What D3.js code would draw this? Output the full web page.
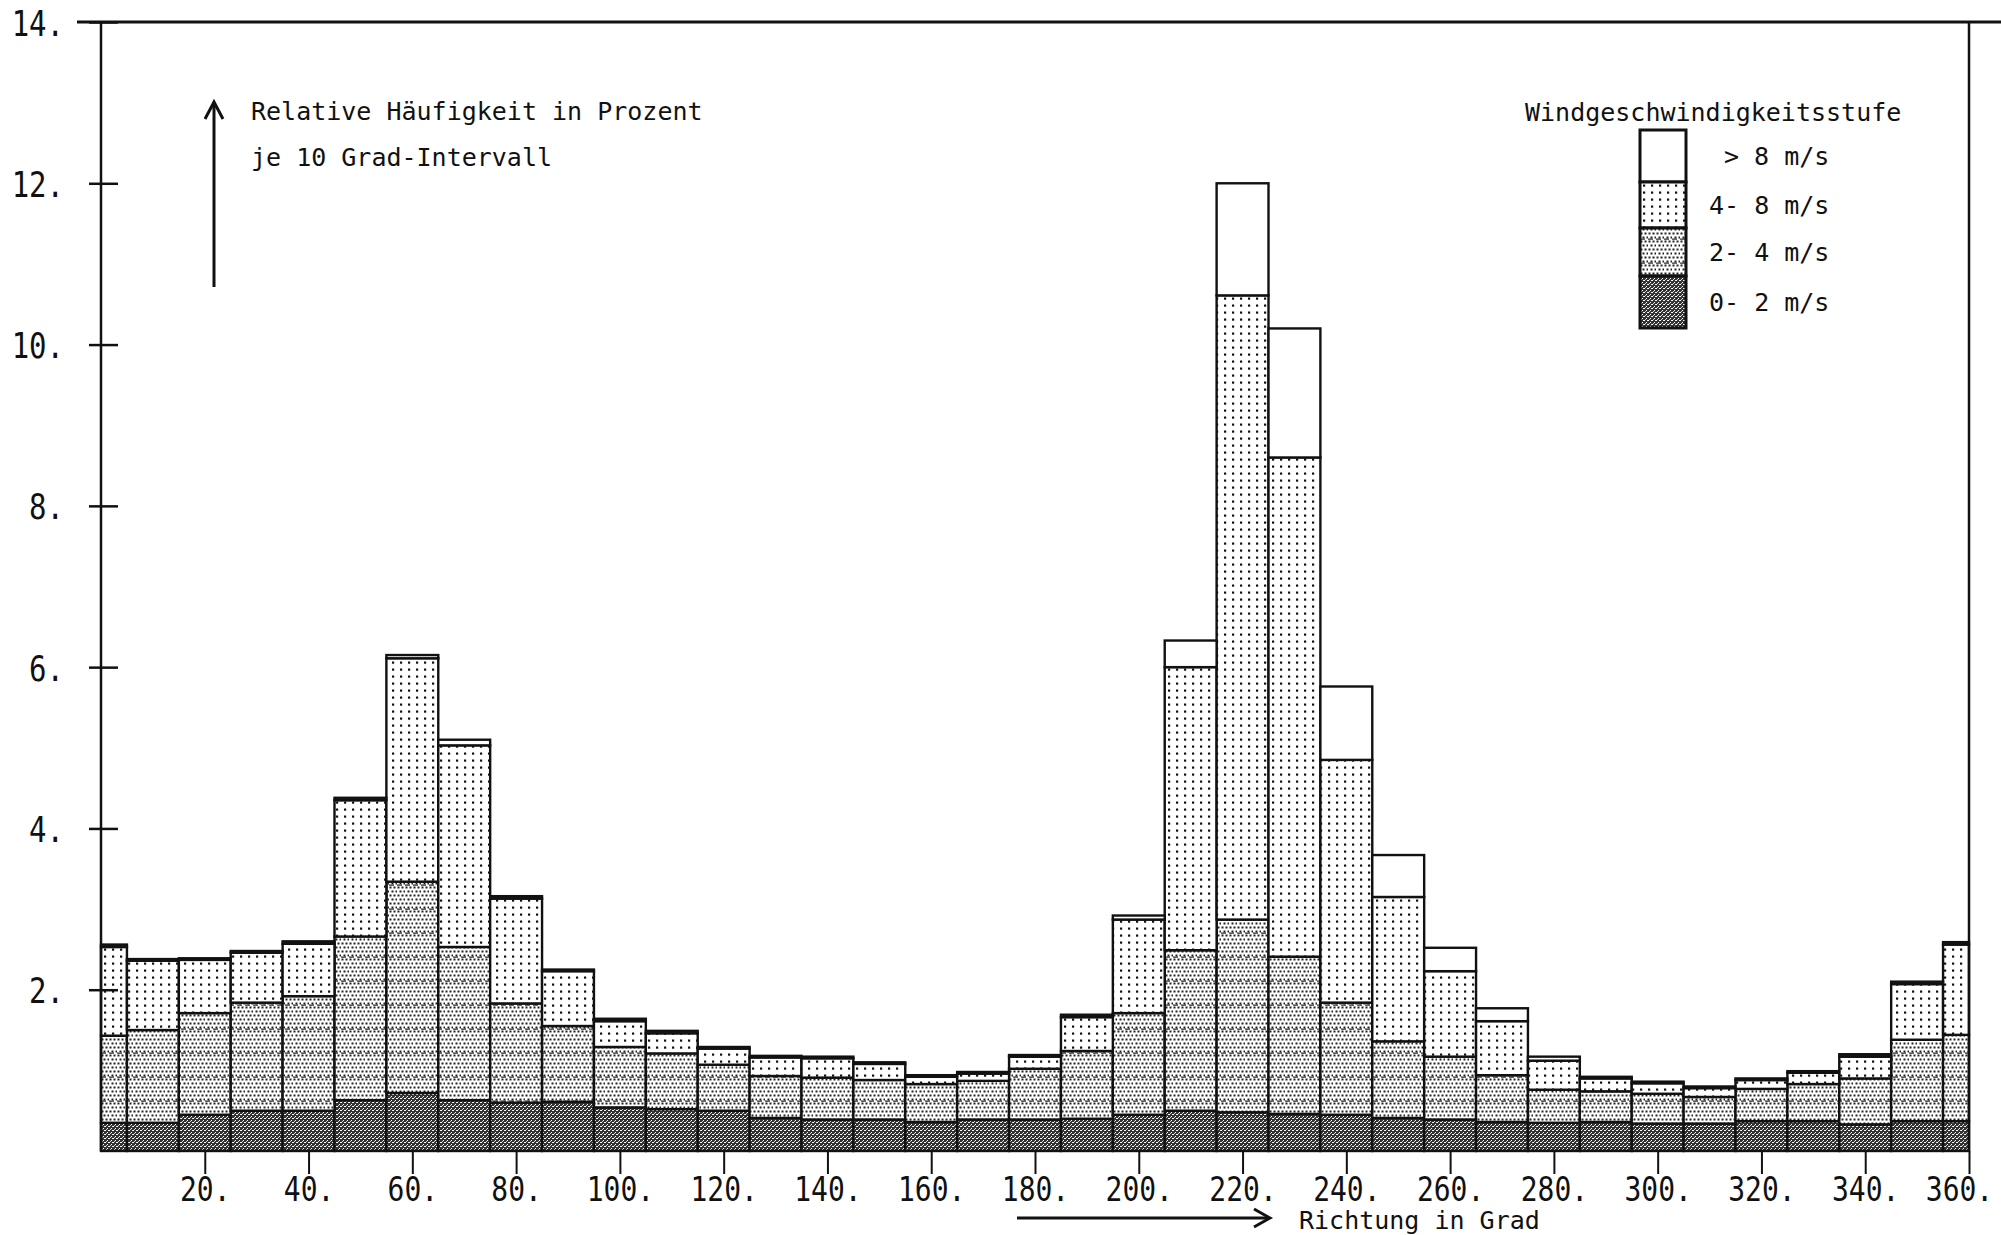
<!DOCTYPE html>
<html>
<head>
<meta charset="utf-8">
<script src="https://cdn.jsdelivr.net/npm/d3@7"></script>
<style>
  body { margin: 0; background: #fff; }
  text { font-family: "DejaVu Sans Mono", "Liberation Mono", monospace; fill: #111; }
</style>
</head>
<body>
<div id="chart"></div>
<script>
////////////////////////////////////////////////////////////////////////////////////////
// Data: relative frequency (%) per 10 degree sector, split by wind speed class
var directions = [0, 10, 20, 30, 40, 50, 60, 70, 80, 90, 100, 110, 120, 130, 140, 150, 160, 170, 180,
                  190, 200, 210, 220, 230, 240, 250, 260, 270, 280, 290, 300, 310, 320, 330, 340, 350, 360];

var speed0to2 = [0.35, 0.35, 0.45, 0.50, 0.50, 0.63, 0.72, 0.63, 0.60, 0.61, 0.54, 0.52, 0.50, 0.41, 0.39, 0.39, 0.36, 0.39, 0.39,
                 0.40, 0.45, 0.50, 0.48, 0.46, 0.45, 0.41, 0.39, 0.36, 0.35, 0.36, 0.34, 0.34, 0.37, 0.37, 0.33, 0.37, 0.37];
var speed2to4 = [1.08, 1.15, 1.26, 1.34, 1.42, 2.03, 2.62, 1.90, 1.23, 0.94, 0.75, 0.69, 0.57, 0.52, 0.52, 0.49, 0.47, 0.48, 0.63,
                 0.84, 1.26, 1.99, 2.39, 1.95, 1.39, 0.95, 0.78, 0.58, 0.41, 0.38, 0.37, 0.33, 0.40, 0.46, 0.57, 1.01, 1.07];
var speed4to8 = [1.10, 0.86, 0.66, 0.62, 0.65, 1.69, 2.77, 2.50, 1.30, 0.68, 0.32, 0.25, 0.20, 0.23, 0.24, 0.20, 0.09, 0.09, 0.15,
                 0.42, 1.16, 3.51, 7.74, 6.19, 3.01, 1.79, 1.06, 0.67, 0.36, 0.16, 0.13, 0.11, 0.11, 0.14, 0.27, 0.69, 1.12];
var speedOver8 = [0.03, 0.02, 0.02, 0.02, 0.03, 0.03, 0.04, 0.07, 0.03, 0.02, 0.03, 0.03, 0.02, 0.02, 0.02, 0.02, 0.02, 0.02, 0.02,
                  0.03, 0.05, 0.33, 1.39, 1.60, 0.91, 0.52, 0.29, 0.16, 0.05, 0.02, 0.02, 0.02, 0.02, 0.02, 0.03, 0.03, 0.03];

var speedKeys = ["s0", "s2", "s4", "s8"];
var legendLabels = ["0- 2 m/s", "2- 4 m/s", "4- 8 m/s", "> 8 m/s"];
var yTicks = [2, 4, 6, 8, 10, 12, 14];
var xTicks = [20, 40, 60, 80, 100, 120, 140, 160, 180, 200, 220, 240, 260, 280, 300, 320, 340, 360];

////////////////////////////////////////////////////////////////////////////////////////
// Canvas
var svgWidth = 2001;
var svgHeight = 1235;
var margin = { top: 22, right: 32, bottom: 84, left: 101 };
var width = svgWidth - margin.left - margin.right;
var height = svgHeight - margin.top - margin.bottom;

var svg = d3.select("#chart").append("svg")
    .attr("width", svgWidth).attr("height", svgHeight)
    .style("display", "block").style("background", "#fff");

// Fill textures, like the plotter hatchings
var defs = svg.append("defs");

var p0 = defs.append("pattern").attr("id", "pat-s0").attr("patternUnits", "userSpaceOnUse")
    .attr("width", 4).attr("height", 4);
p0.append("rect").attr("width", 4).attr("height", 4).attr("fill", "#333");
p0.append("rect").attr("x", 0).attr("y", 0).attr("width", 1).attr("height", 1).attr("fill", "#fff");
p0.append("rect").attr("x", 2).attr("y", 2).attr("width", 1).attr("height", 1).attr("fill", "#fff");
p0.append("rect").attr("x", 3).attr("y", 0).attr("width", 1).attr("height", 1).attr("fill", "#eee");
p0.append("rect").attr("x", 1).attr("y", 3).attr("width", 1).attr("height", 1).attr("fill", "#ccc");

var p2 = defs.append("pattern").attr("id", "pat-s2").attr("patternUnits", "userSpaceOnUse")
    .attr("width", 8).attr("height", 24);
p2.append("rect").attr("width", 8).attr("height", 24).attr("fill", "#fff");
for (var r = 0; r < 6; r++) {
    for (var c = 0; c < 2; c++) {
        p2.append("rect").attr("x", c * 4 + (r % 2) * 2 + 0.5).attr("y", r * 4 + 0.5)
            .attr("width", 2).attr("height", 2).attr("fill", "#222");
    }
}
p2.append("rect").attr("x", 0).attr("y", 22.5).attr("width", 5).attr("height", 1.2).attr("fill", "#222");

var p4 = defs.append("pattern").attr("id", "pat-s4").attr("patternUnits", "userSpaceOnUse")
    .attr("width", 8).attr("height", 7);
p4.append("rect").attr("width", 8).attr("height", 7).attr("fill", "#fff");
p4.append("rect").attr("x", 3).attr("y", 2.5).attr("width", 2.2).attr("height", 2.2).attr("fill", "#111");

var fills = { s0: "url(#pat-s0)", s2: "url(#pat-s2)", s4: "url(#pat-s4)", s8: "#fff" };

var chartGroup = svg.append("g").attr("transform", `translate(${margin.left}, ${margin.top})`);

////////////////////////////////////////////////////////////////////////////////////////
// Scales
var x = d3.scaleLinear().domain([0, 360]).range([0, width]);
var y = d3.scaleLinear().domain([0, 14]).range([height, 0]);

// Table for the stack
var table = directions.map(function (d, i) {
    return { dir: d, s0: speed0to2[i], s2: speed2to4[i], s4: speed4to8[i], s8: speedOver8[i] };
});
var series = d3.stack().keys(speedKeys)(table);

////////////////////////////////////////////////////////////////////////////////////////
// Bars (each sector is +-5 degrees, clipped at 0 and 360)
var layers = chartGroup.selectAll("g.layer")
    .data(series)
    .enter().append("g")
    .attr("class", "layer")
    .attr("fill", function (d) { return fills[d.key]; });

layers.selectAll("rect")
    .data(function (d) { return d; })
    .enter().append("rect")
    .attr("x", function (d) { return x(Math.max(0, d.data.dir - 5)); })
    .attr("width", function (d) { return x(Math.min(360, d.data.dir + 5)) - x(Math.max(0, d.data.dir - 5)); })
    .attr("y", function (d) { return y(d[1]); })
    .attr("height", function (d) { return y(d[0]) - y(d[1]); })
    .attr("stroke", "#111")
    .attr("stroke-width", 2.4);

////////////////////////////////////////////////////////////////////////////////////////
// Frame: left axis, top line, right line
chartGroup.append("line").attr("x1", 0).attr("x2", 0).attr("y1", 0).attr("y2", height)
    .attr("stroke", "#111").attr("stroke-width", 2.5);
chartGroup.append("line").attr("x1", -24).attr("x2", svgWidth - margin.left).attr("y1", 0).attr("y2", 0)
    .attr("stroke", "#111").attr("stroke-width", 3);
chartGroup.append("line").attr("x1", width).attr("x2", width).attr("y1", 0).attr("y2", height)
    .attr("stroke", "#111").attr("stroke-width", 2.5);

// Y axis
var yAxis = chartGroup.append("g").attr("class", "y-axis")
    .call(d3.axisLeft(y).tickValues(yTicks).tickSize(12).tickFormat(function (d) { return d + "."; }));
yAxis.select(".domain").remove();
yAxis.selectAll(".tick line").attr("x1", 17).attr("stroke", "#111").attr("stroke-width", 2.5);
yAxis.selectAll(".tick text")
    .attr("x", null).attr("dy", null)
    .attr("transform", "translate(-37, 13) scale(1, 1.2)")
    .style("font-size", "29px").style("fill", "#111");

// X axis
var xAxis = chartGroup.append("g").attr("class", "x-axis")
    .attr("transform", "translate(0," + height + ")")
    .call(d3.axisBottom(x).tickValues(xTicks).tickSize(23).tickFormat(function (d) { return d + "."; }));
xAxis.select(".domain").remove();
xAxis.selectAll(".tick line").attr("stroke", "#111").attr("stroke-width", 2);
xAxis.selectAll(".tick text")
    .attr("y", null).attr("dy", null)
    .attr("transform", function (d) { return "translate(" + (d === 360 ? -10 : 0) + ", 50) scale(1, 1.2)"; })
    .style("font-size", "28px").style("fill", "#111");

////////////////////////////////////////////////////////////////////////////////////////
// Axis annotations with arrows
svg.append("line").attr("x1", 214).attr("x2", 214).attr("y1", 287).attr("y2", 103)
    .attr("stroke", "#111").attr("stroke-width", 3);
svg.append("polyline").attr("points", "205,119 214,102 223,119")
    .attr("fill", "none").attr("stroke", "#111").attr("stroke-width", 3);
svg.append("text").attr("x", 251).attr("y", 120).style("font-size", "25px")
    .text("Relative Häufigkeit in Prozent");
svg.append("text").attr("x", 251).attr("y", 166).style("font-size", "25px")
    .text("je 10 Grad-Intervall");

svg.append("line").attr("x1", 1017).attr("x2", 1268).attr("y1", 1218).attr("y2", 1218)
    .attr("stroke", "#111").attr("stroke-width", 3);
svg.append("polyline").attr("points", "1254,1209 1270,1218 1254,1227")
    .attr("fill", "none").attr("stroke", "#111").attr("stroke-width", 3);
svg.append("text").attr("x", 1299).attr("y", 1229).style("font-size", "25px")
    .text("Richtung in Grad");

////////////////////////////////////////////////////////////////////////////////////////
// Legend
var legend = svg.append("g").attr("class", "legend");
legend.append("text").attr("x", 1525).attr("y", 121).style("font-size", "25px")
    .text("Windgeschwindigkeitsstufe");

var legendBoxes = [
    { key: "s8", y0: 130, y1: 182, tx: 1724 },
    { key: "s4", y0: 182, y1: 228, tx: 1709 },
    { key: "s2", y0: 228, y1: 276, tx: 1709 },
    { key: "s0", y0: 276, y1: 328, tx: 1709 }
];
legend.selectAll("rect")
    .data(legendBoxes)
    .enter().append("rect")
    .attr("x", 1640).attr("width", 46)
    .attr("y", function (d) { return d.y0; })
    .attr("height", function (d) { return d.y1 - d.y0; })
    .attr("fill", function (d) { return fills[d.key]; })
    .attr("stroke", "#111").attr("stroke-width", 3);
legend.selectAll("text.lab")
    .data(legendBoxes)
    .enter().append("text")
    .attr("class", "lab")
    .attr("x", function (d) { return d.tx; })
    .attr("y", function (d) { return (d.y0 + d.y1) / 2 + 9; })
    .style("font-size", "25px")
    .text(function (d) { return legendLabels[speedKeys.indexOf(d.key)]; });
</script>
</body>
</html>
